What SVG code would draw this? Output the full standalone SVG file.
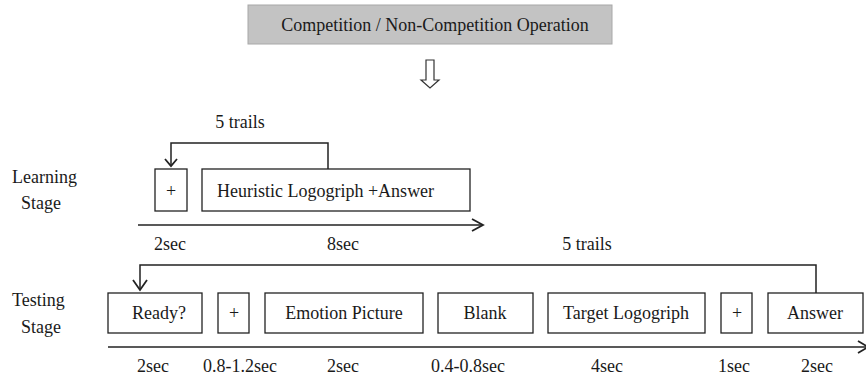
<svg xmlns="http://www.w3.org/2000/svg" width="866" height="378" viewBox="0 0 866 378">
<style>
text{font-family:"Liberation Serif","Times New Roman",serif;font-size:18px;fill:#1a1a1a}
.c{text-anchor:middle}
.box{fill:#fff;stroke:#222;stroke-width:1.3}
.ln{fill:none;stroke:#222;stroke-width:1.5}
.ah{fill:none;stroke:#222;stroke-width:1.8}
</style>
<rect width="866" height="378" fill="#fff"/>
<g id="title">
<rect x="248" y="5" width="364" height="39" fill="#c3c3c3" stroke="#a8a8a8" stroke-width="1"/>
<text class="c" x="435" y="31">Competition / Non-Competition Operation</text>
</g>
<g id="down-arrow">
<path d="M426,60 H434 V80 H439 L430,88 L421,80 H426 Z" fill="#fff" stroke="#333" stroke-width="1.2"/>
</g>
<g id="learning-label"><text x="12" y="183">Learning</text><text x="21" y="209">Stage</text></g>
<g id="testing-label"><text x="12" y="306">Testing</text><text x="21" y="333">Stage</text></g>
<g id="l-plus"><rect class="box" x="155" y="169" width="32" height="42"/><text class="c" x="171" y="197">+</text></g>
<g id="l-heuristic"><rect class="box" x="202" y="169" width="268" height="42"/><text x="217" y="197">Heuristic Logogriph +Answer</text></g>
<g id="t-ready"><rect class="box" x="108" y="293" width="94" height="40"/><text class="c" x="159" y="319">Ready?</text></g>
<g id="t-plus1"><rect class="box" x="218" y="293" width="31" height="40"/><text class="c" x="234" y="319">+</text></g>
<g id="t-emotion"><rect class="box" x="265" y="293" width="158" height="40"/><text class="c" x="344" y="319">Emotion Picture</text></g>
<g id="t-blank"><rect class="box" x="438" y="293" width="95" height="40"/><text class="c" x="485" y="319">Blank</text></g>
<g id="t-target"><rect class="box" x="548" y="293" width="157" height="40"/><text class="c" x="626" y="319">Target Logogriph</text></g>
<g id="t-plus2"><rect class="box" x="721" y="293" width="31" height="40"/><text class="c" x="737" y="319">+</text></g>
<g id="t-answer"><rect class="box" x="768" y="293" width="95" height="40"/><text class="c" x="815" y="319">Answer</text></g>
<g id="connectors">
<path class="ln" d="M328,169 V143 H171 V166"/>
<path class="ah" d="M165,159 L171,166 L177,159"/>
<path class="ln" d="M138,225 H482"/>
<path class="ah" d="M472,219 L483,225 L472,231"/>
<path class="ln" d="M816,293 V265 H140 V289"/>
<path class="ah" d="M133,280 L140,290 L147,280"/>
<path class="ln" d="M108,347 H866" stroke-width="2"/>
<path class="ah" d="M858,341 L868,347 L858,353"/>
</g>
<g id="labels">
<text class="c" x="240" y="128">5 trails</text>
<text class="c" x="170" y="250">2sec</text>
<text class="c" x="343" y="250">8sec</text>
<text class="c" x="587" y="250">5 trails</text>
<text class="c" x="153" y="372">2sec</text>
<text class="c" x="240" y="372">0.8-1.2sec</text>
<text class="c" x="343" y="372">2sec</text>
<text class="c" x="468" y="372">0.4-0.8sec</text>
<text class="c" x="607" y="372">4sec</text>
<text class="c" x="734" y="372">1sec</text>
<text class="c" x="817" y="372">2sec</text>
</g>
</svg>
